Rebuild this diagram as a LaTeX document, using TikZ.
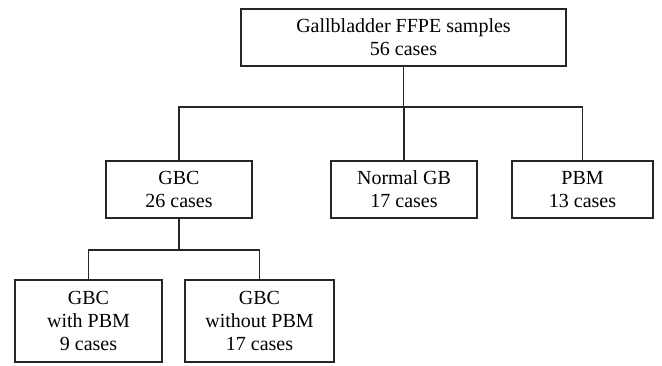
\documentclass[tikz,border=0pt]{standalone}
\usepackage{fontspec}
\setmainfont{Liberation Serif}
\tikzset{
  casebox/.style={draw=black!85, line width=1.8pt, align=center, inner sep=0pt,
    minimum height=57pt, font=\fontsize{20}{23}\selectfont},
  link/.style={draw=black!85, line width=1.8pt}
}
\begin{document}
\begin{tikzpicture}[x=1pt,y=-1pt]
        \useasboundingbox (0,0) rectangle (662,365);

        \node[casebox, minimum width=325pt] (all) at (403.5,37.5) {Gallbladder FFPE samples\\56 cases};

        \node[casebox, minimum width=146pt] (gbc) at (179,189.5) {GBC\\26 cases};
        \node[casebox, minimum width=146pt] (normal) at (404,189.5) {Normal GB\\17 cases};
        \node[casebox, minimum width=141pt] (pbm) at (582.5,189.5) {PBM\\13 cases};

        \node[casebox, minimum width=147pt, minimum height=82pt] (withpbm) at (88.5,321) {GBC\\with PBM\\9 cases};
        \node[casebox, minimum width=149pt, minimum height=82pt] (withoutpbm) at (259.5,321) {GBC\\without PBM\\17 cases};

        \coordinate (bus) at (0,107);
        \coordinate (subbus) at (0,250);

        \draw[link] (all.south) -- (all.south |- bus);
        \draw[link] (gbc.north) -- (gbc.north |- bus) -- (pbm.north |- bus) -- (pbm.north);
        \draw[link] (normal.north) -- (normal.north |- bus);

        \draw[link] (gbc.south) -- (gbc.south |- subbus);
        \draw[link] (withpbm.north) -- (withpbm.north |- subbus) -- (withoutpbm.north |- subbus) -- (withoutpbm.north);
    \end{tikzpicture}
\end{document}
